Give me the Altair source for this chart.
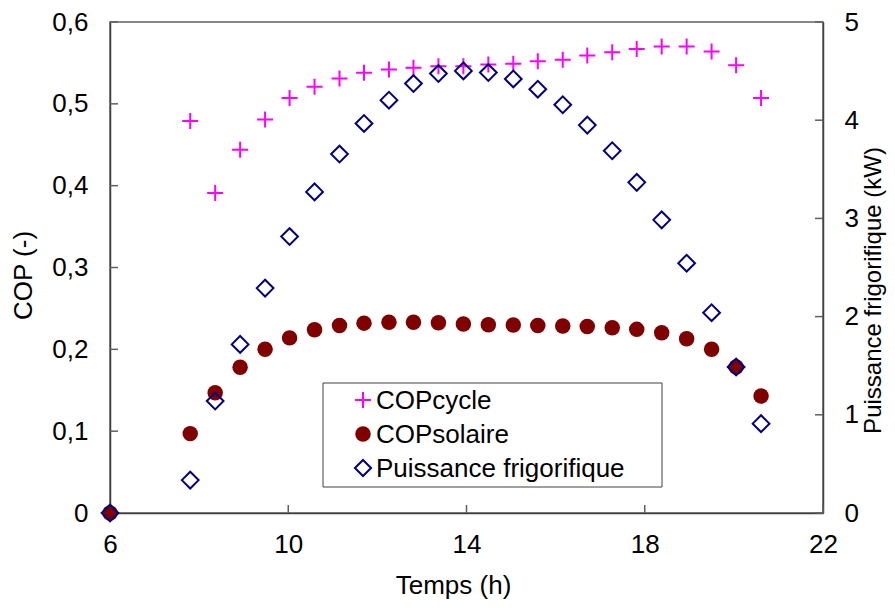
import altair as alt
import pandas as pd

# ---- data ----
temps = [6.0, 7.8, 8.36, 8.92, 9.48, 10.03, 10.59, 11.15, 11.70, 12.26, 12.81, 13.37,
         13.93, 14.49, 15.05, 15.6, 16.16, 16.71, 17.27, 17.82, 18.38, 18.94, 19.50, 20.05, 20.61]
cop_cycle = [None, 0.479, 0.391, 0.444, 0.481, 0.507, 0.521, 0.531, 0.538, 0.542, 0.544, 0.546,
             0.546, 0.548, 0.549, 0.552, 0.554, 0.559, 0.563, 0.567, 0.570, 0.570, 0.564, 0.547, 0.507]
cop_solaire = [0.0, 0.097, 0.147, 0.178, 0.200, 0.214, 0.224, 0.229, 0.232, 0.233, 0.233, 0.2325,
               0.231, 0.230, 0.2297, 0.229, 0.2285, 0.228, 0.2264, 0.2244, 0.2203, 0.213, 0.200, 0.1785, 0.143]
puissance = [0.0, 0.335, 1.14, 1.717, 2.29, 2.815, 3.27, 3.655, 3.967, 4.204, 4.373, 4.475,
             4.502, 4.485, 4.42, 4.316, 4.157, 3.95, 3.689, 3.367, 2.985, 2.544, 2.04, 1.487, 0.91]

series_names = ["COPcycle", "COPsolaire", "Puissance frigorifique"]
x_ticks = [6, 10, 14, 18, 22]
cop_ticks = [0, 0.1, 0.2, 0.3, 0.4, 0.5, 0.6]
kw_ticks = [0, 1, 2, 3, 4, 5]

# ---- layout ----
W, H = 713, 491
FONT = "Liberation Sans"
FS = 26
TICK = 8
TICK_COLOR = "#606060"
PLUS = "M-1,0L1,0M0,-1L0,1"

df = pd.DataFrame({"temps": temps, "cycle": cop_cycle, "solaire": cop_solaire, "puissance": puissance})

x_scale = alt.Scale(domain=[6, 22], nice=False, zero=False)
yl_scale = alt.Scale(domain=[0, 0.6], nice=False)
yr_scale = alt.Scale(domain=[0, 5], nice=False)

x_axis = alt.Axis(values=x_ticks, title="Temps (h)", tickSize=0, labelPadding=18,
                  labelFlush=False, grid=False, titleX=343, titleY=72,
                  titleAlign="center", titleBaseline="middle")
yl_axis = alt.Axis(values=cop_ticks, title="COP (-)", tickSize=0, labelPadding=22,
                   labelFlush=False, grid=False,
                   labelExpr="datum.value == 0 ? '0' : replace(format(datum.value, '.1f'), '.', ',')",
                   titleAngle=270, titleX=-87, titleY=253, titleAlign="center", titleBaseline="middle")
yr_axis = alt.Axis(values=kw_ticks, title="Puissance frigorifique (kW)", orient="right", tickSize=0,
                   labelPadding=21, labelFlush=False, grid=False, format="d",
                   titleFontSize=24,
                   titleAngle=270, titleX=50, titleY=268, titleAlign="center", titleBaseline="middle")

X = alt.X("temps:Q", scale=x_scale, axis=x_axis)

cycle_pts = alt.Chart(df).mark_point(shape=PLUS, size=256, filled=False, color="#FF00FF",
                                     strokeWidth=2, opacity=1).encode(
    x=X, y=alt.Y("cycle:Q", scale=yl_scale, axis=yl_axis))
solar_pts = alt.Chart(df).mark_point(shape="circle", size=240, filled=True, color="#800000",
                                     opacity=1).encode(
    x=X, y=alt.Y("solaire:Q", scale=yl_scale, axis=yl_axis))

left_ticks = alt.Chart(pd.DataFrame({"v": cop_ticks})).mark_rule(color=TICK_COLOR, strokeWidth=1.5).encode(
    y=alt.Y("v:Q", scale=yl_scale, axis=yl_axis), x=alt.value(0), x2=alt.value(TICK))
bottom_ticks = alt.Chart(pd.DataFrame({"t": x_ticks})).mark_rule(color=TICK_COLOR, strokeWidth=1.5).encode(
    x=alt.X("t:Q", scale=x_scale, axis=x_axis), y=alt.value(H - TICK), y2=alt.value(H))

left = alt.layer(left_ticks, bottom_ticks, cycle_pts, solar_pts)

puis_pts = alt.Chart(df).mark_point(shape="diamond", size=280, filled=False, color="#000080",
                                    strokeWidth=2, opacity=1).encode(
    x=X, y=alt.Y("puissance:Q", scale=yr_scale, axis=yr_axis))
right_ticks = alt.Chart(pd.DataFrame({"k": kw_ticks})).mark_rule(color=TICK_COLOR, strokeWidth=1.5).encode(
    y=alt.Y("k:Q", scale=yr_scale, axis=yr_axis), x=alt.value(W - TICK), x2=alt.value(W))

right = alt.layer(puis_pts, right_ticks)

# ---- legend ----
leg_box = alt.Chart(pd.DataFrame({"a": [0]})).mark_rect(fill="white", stroke="#404040", strokeWidth=1).encode(
    x=alt.value(213), x2=alt.value(552), y=alt.value(361), y2=alt.value(465))
leg_y = [378, 412, 446]
leg_layers = [leg_box]
sym_specs = [
    dict(shape=PLUS, size=256, filled=False, color="#FF00FF", strokeWidth=2),
    dict(shape="circle", size=240, filled=True, color="#800000"),
    dict(shape="diamond", size=260, filled=False, color="#000080", strokeWidth=2),
]
for i, name in enumerate(series_names):
    d = pd.DataFrame({"label": [name]})
    leg_layers.append(alt.Chart(d).mark_point(opacity=1, **sym_specs[i]).encode(
        x=alt.value(253), y=alt.value(leg_y[i])))
    leg_layers.append(alt.Chart(d).mark_text(font=FONT, fontSize=FS, align="left", baseline="middle",
                                             color="black").encode(
        text="label:N", x=alt.value(266), y=alt.value(leg_y[i] + 1)))
legend = alt.layer(*leg_layers)

chart = alt.layer(left, right, legend).resolve_scale(y="independent").properties(
    width=W, height=H, autosize="none", background="white",
    padding={"left": 102, "top": 14, "right": 64, "bottom": 89},
).configure_view(stroke="#606060", strokeWidth=1.5).configure_axis(
    labelFont=FONT, titleFont=FONT, labelFontSize=FS, titleFontSize=FS,
    labelColor="black", titleColor="black", titleFontWeight="normal",
    domainColor="#404040", domainWidth=1.5,
)

chart.save("out.html", embed_options={"renderer": "svg", "actions": False})
